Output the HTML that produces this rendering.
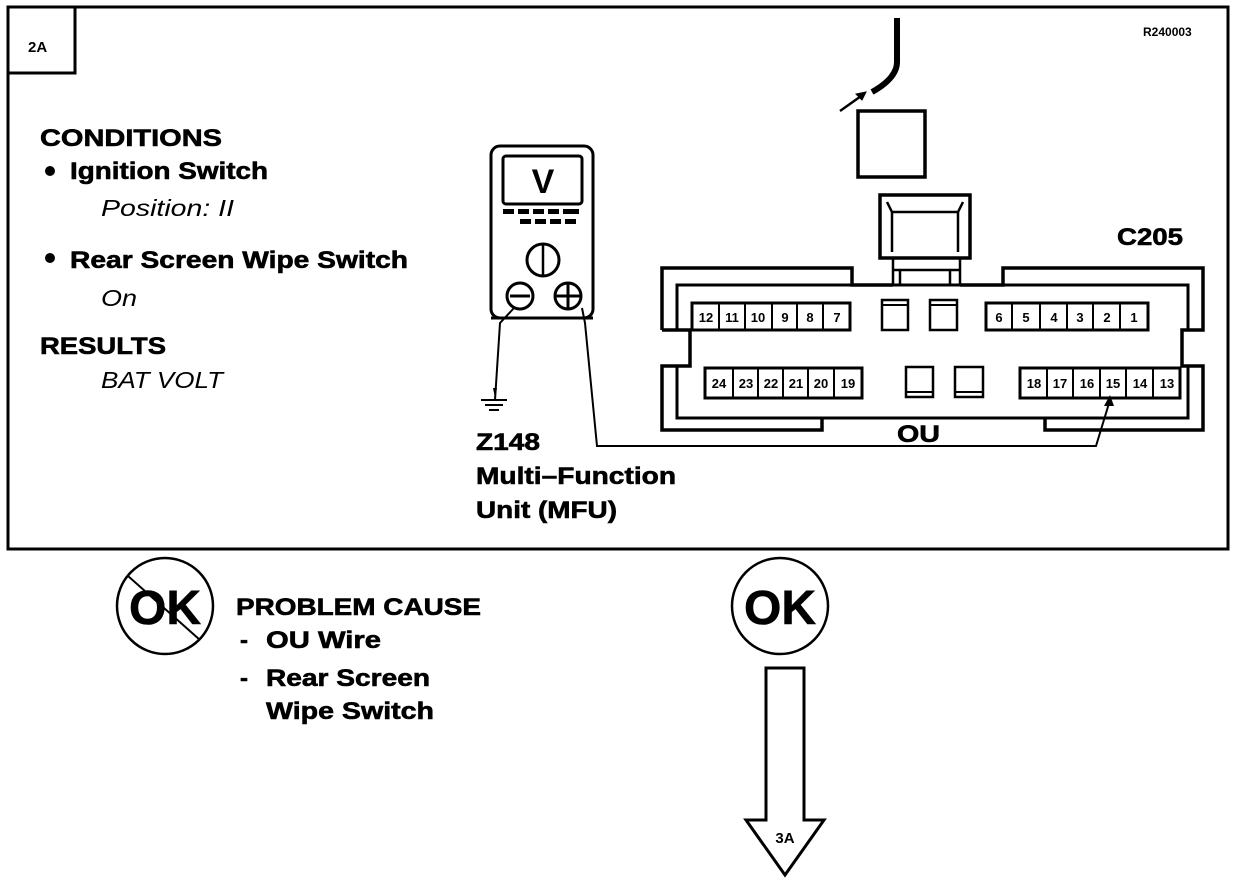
<!DOCTYPE html>
<html><head><meta charset="utf-8"><style>
html,body{margin:0;padding:0;background:#fff;}
svg{display:block;}
text{font-family:"Liberation Sans",Arial,sans-serif;font-weight:bold;fill:#000;}
.b{stroke:#000;stroke-width:0.6;}
.it{font-style:italic;font-weight:normal;}
</style></head><body>
<svg width="1248" height="880" viewBox="0 0 1248 880" xmlns="http://www.w3.org/2000/svg">
<g fill="none" stroke="#000">
<rect x="8" y="7" width="1220" height="542" stroke-width="3"/>
<rect x="8" y="7" width="67" height="66" stroke-width="3"/>
<path d="M897 18 L897 62 Q897 78 872 92" stroke-width="6"/>
<path d="M840 111 L864 94" stroke-width="2.5"/>
<path d="M866 92 L856 94 L862 100 Z" fill="#000" stroke-width="1"/>
<rect x="858" y="111" width="67" height="66" stroke-width="3.5"/>
<rect x="880" y="195" width="90" height="63" stroke-width="3.5"/>
<path d="M887 202 L892 212 L958 212 L963 202" stroke-width="2.5"/>
<path d="M892 212 L892 252 M958 212 L958 252" stroke-width="2.5"/>
<path d="M893 258 L893 285 M960 258 L960 285 M900 270 L900 285 M950 270 L950 285 M893 270 L960 270" stroke-width="2.5"/>
<path d="M662 330 L662 268 L852 268 L852 285 L893 285 M960 285 L1003 285 L1003 268 L1203 268 L1203 330 L1182 330 L1182 366 L1203 366 L1203 430 L1045 430 L1045 418 M822 418 L822 430 L662 430 L662 366 L690 366 L690 330 L662 330" stroke-width="3.5"/>
<path d="M677 330 L677 285 L1188 285 L1188 330 M677 366 L677 418 L1188 418 L1188 366" stroke-width="3"/>
<rect x="692" y="303" width="158" height="27" stroke-width="3"/>
<path d="M719 303V330M745 303V330M772 303V330M797 303V330M823 303V330" stroke-width="2"/>
<rect x="986" y="303" width="162" height="27" stroke-width="3"/>
<path d="M1012 303V330M1040 303V330M1067 303V330M1093 303V330M1120 303V330" stroke-width="2"/>
<rect x="882" y="300" width="26" height="30" stroke-width="2.5"/>
<path d="M882 305H908" stroke-width="2"/>
<rect x="930" y="300" width="27" height="30" stroke-width="2.5"/>
<path d="M930 305H957" stroke-width="2"/>
<rect x="705" y="368" width="157" height="30" stroke-width="3"/>
<path d="M733 368V398M758 368V398M783 368V398M808 368V398M834 368V398" stroke-width="2"/>
<rect x="1020" y="368" width="160" height="30" stroke-width="3"/>
<path d="M1047 368V398M1073 368V398M1100 368V398M1126 368V398M1153 368V398" stroke-width="2"/>
<rect x="906" y="367" width="27" height="30" stroke-width="2.5"/>
<path d="M906 392H933" stroke-width="2"/>
<rect x="955" y="367" width="28" height="30" stroke-width="2.5"/>
<path d="M955 392H983" stroke-width="2"/>
<rect x="491" y="146" width="102" height="172" rx="9" stroke-width="3"/>
<rect x="503" y="156" width="79" height="48" rx="3" stroke-width="3"/>
<circle cx="543" cy="260" r="16" stroke-width="3"/>
<path d="M543 244V276" stroke-width="2.5"/>
<circle cx="520" cy="296" r="13" stroke-width="3"/>
<path d="M510 296H530" stroke-width="3"/>
<circle cx="568" cy="296" r="13" stroke-width="3"/>
<path d="M556 296H580M568 284V308" stroke-width="3"/>
<path d="M491 318 L593 318" stroke-width="3"/>
<path d="M514 308 L500 323 L495 400" stroke-width="2"/>
<path d="M582 308 L585 323 L597 446 L1096 446 L1110 400" stroke-width="2"/>
<path d="M481 400H507M485 405H503M489 410H499" stroke-width="2"/>
<circle cx="165" cy="606" r="48" stroke-width="2.5"/>
<path d="M128 576 L200 640" stroke-width="2"/>
<circle cx="780" cy="606" r="48" stroke-width="2.5"/>
<path d="M766 668 L804 668 L804 820 L824 820 L785 875 L746 820 L766 820 Z" stroke-width="3"/>
</g>
<path d="M493 388 L497 388 L495 398 Z" fill="#000"/>
<path d="M1110 395 L1104 406 L1114 406 Z" fill="#000"/>
<g fill="#000">
<rect x="503" y="209" width="11" height="5"/><rect x="518" y="209" width="11" height="5"/><rect x="533" y="209" width="11" height="5"/><rect x="548" y="209" width="11" height="5"/><rect x="563" y="209" width="16" height="5"/>
<rect x="520" y="219" width="11" height="5"/><rect x="535" y="219" width="11" height="5"/><rect x="550" y="219" width="11" height="5"/><rect x="565" y="219" width="11" height="5"/>
</g>
<text x="28" y="52" font-size="15">2A</text>
<text x="1143" y="36" font-size="12" font-weight="normal">R240003</text>
<g class="b" font-size="24" lengthAdjust="spacingAndGlyphs">
<text x="40" y="146" textLength="182" lengthAdjust="spacingAndGlyphs">CONDITIONS</text>
<text x="70" y="179" textLength="198" lengthAdjust="spacingAndGlyphs">Ignition Switch</text>
<text x="70" y="268" textLength="338" lengthAdjust="spacingAndGlyphs">Rear Screen Wipe Switch</text>
<text x="40" y="354" textLength="126" lengthAdjust="spacingAndGlyphs">RESULTS</text>
<text x="476" y="450" textLength="64" lengthAdjust="spacingAndGlyphs">Z148</text>
<text x="476" y="484" textLength="200" lengthAdjust="spacingAndGlyphs">Multi–Function</text>
<text x="476" y="518" textLength="141" lengthAdjust="spacingAndGlyphs">Unit (MFU)</text>
<text x="1117" y="245" textLength="66" lengthAdjust="spacingAndGlyphs">C205</text>
<text x="897" y="442" textLength="43" lengthAdjust="spacingAndGlyphs">OU</text>
<text x="236" y="615" textLength="245" lengthAdjust="spacingAndGlyphs">PROBLEM CAUSE</text>
<text x="240" y="648">-</text>
<text x="266" y="648" textLength="115" lengthAdjust="spacingAndGlyphs">OU  Wire</text>
<text x="240" y="686">-</text>
<text x="266" y="686" textLength="164" lengthAdjust="spacingAndGlyphs">Rear Screen</text>
<text x="266" y="719" textLength="168" lengthAdjust="spacingAndGlyphs">Wipe Switch</text>
</g>
<circle cx="50" cy="171" r="5" fill="#000"/>
<circle cx="50" cy="258" r="5" fill="#000"/>
<text x="101" y="216" font-size="23" class="it" textLength="133" lengthAdjust="spacingAndGlyphs">Position: II</text>
<text x="101" y="306" font-size="23" class="it" textLength="36" lengthAdjust="spacingAndGlyphs">On</text>
<text x="101" y="388" font-size="23" class="it" textLength="122" lengthAdjust="spacingAndGlyphs">BAT VOLT</text>
<text x="543" y="193" font-size="34" text-anchor="middle">V</text>
<g font-size="13" text-anchor="middle">
<text x="706" y="322">12</text><text x="732" y="322">11</text><text x="758" y="322">10</text><text x="785" y="322">9</text><text x="810" y="322">8</text><text x="837" y="322">7</text>
<text x="999" y="322">6</text><text x="1026" y="322">5</text><text x="1054" y="322">4</text><text x="1080" y="322">3</text><text x="1107" y="322">2</text><text x="1134" y="322">1</text>
<text x="719" y="388">24</text><text x="746" y="388">23</text><text x="771" y="388">22</text><text x="796" y="388">21</text><text x="821" y="388">20</text><text x="848" y="388">19</text>
<text x="1034" y="388">18</text><text x="1060" y="388">17</text><text x="1087" y="388">16</text><text x="1113" y="388">15</text><text x="1140" y="388">14</text><text x="1167" y="388">13</text>
</g>
<text x="165" y="624" font-size="48" text-anchor="middle" class="b">OK</text>
<text x="780" y="624" font-size="48" text-anchor="middle" class="b">OK</text>
<text x="785" y="843" font-size="15" text-anchor="middle">3A</text>
</svg>
</body></html>
